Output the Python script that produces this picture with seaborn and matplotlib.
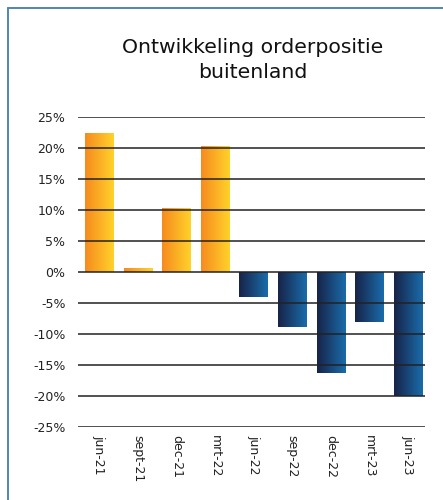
import numpy as np
import pandas as pd
import matplotlib
matplotlib.use("Agg")
import matplotlib.pyplot as plt
import seaborn as sns
from matplotlib.colors import LinearSegmentedColormap
from matplotlib.lines import Line2D

periods = ["jun-21", "sept-21", "dec-21", "mrt-22", "jun-22", "sep-22", "dec-22", "mrt-23", "jun-23"]
values = [22.4, 0.6, 10.3, 20.3, -4.0, -8.9, -16.3, -8.1, -20.0]
yticks = [-25, -20, -15, -10, -5, 0, 5, 10, 15, 20, 25]

df = pd.DataFrame({"periode": periods, "waarde": values})

sns.set_style("white")
plt.rcParams['font.family'] = ['DejaVu Sans']

fig = plt.figure(figsize=(4.43, 5.0), dpi=100)
ax = fig.add_axes([78/443, 1 - 427/500, 347/443, 310/500])

sns.barplot(data=df, x="periode", y="waarde", width=0.727, ax=ax, color="orange")

# gradients voor de balken
oranje = LinearSegmentedColormap.from_list("oranje", ["#f68b1f", "#ffd22a"])
blauw = LinearSegmentedColormap.from_list("blauw", ["#172448", "#1a6cab"])
grad = np.linspace(0, 1, 64).reshape(1, -1)
for p, v in zip(ax.patches, values):
    x0, w = p.get_x(), p.get_width()
    y0, h = p.get_y(), p.get_height()
    cmap = oranje if v >= 0 else blauw
    im = ax.imshow(grad, cmap=cmap, aspect="auto", extent=[x0, x0 + w, min(y0, y0 + h), max(y0, y0 + h)],
                   zorder=2, interpolation="bicubic")
    im.set_clip_path(p)
    p.set_facecolor("none")
    p.set_edgecolor("none")

ax.set_xlim(-0.545, 8.44)
ax.set_ylim(-25, 25)
ax.set_yticks(yticks)
ax.set_yticklabels([f"{t}%" for t in yticks])
ax.yaxis.grid(True, color="#222222", lw=1.1)
ax.set_axisbelow(False)
ax.set_xlabel("")
ax.set_ylabel("")
for s in ax.spines.values():
    s.set_visible(False)
ax.tick_params(axis="y", length=0, pad=9, labelsize=9, labelcolor="#222222")
ax.tick_params(axis="x", length=0, pad=6, labelsize=9, labelcolor="#222222")
for lab in ax.get_xticklabels():
    lab.set_rotation(270)
    lab.set_va("top")
    lab.set_ha("center")

fig.text(253/443, 1 - 60/500, "Ontwikkeling orderpositie\nbuitenland", ha="center", va="center",
         fontsize=14.7, color="#111111", linespacing=1.35)

# kader
fig.add_artist(Line2D([8/443, 8/443], [0, 1 - 8/500], color="#4f86b0", lw=1.4))
fig.add_artist(Line2D([8/443, 1], [1 - 8/500, 1 - 8/500], color="#4f86b0", lw=1.4))

fig.savefig("out.png", dpi=100)
